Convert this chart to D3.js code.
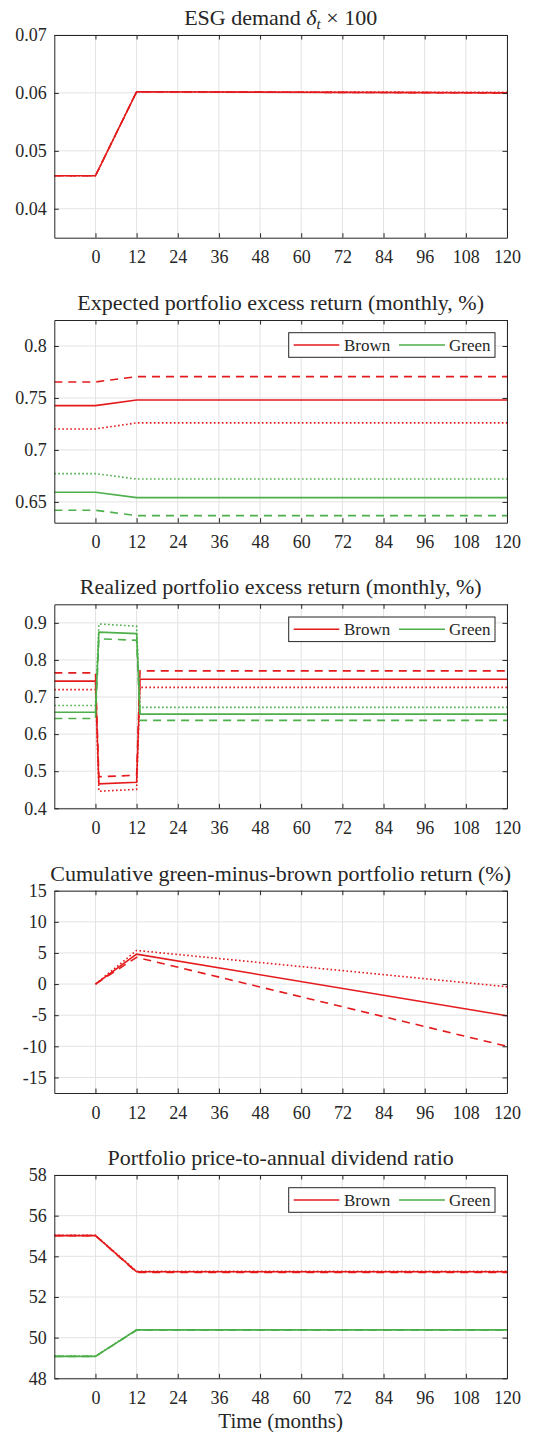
<!DOCTYPE html>
<html>
<head>
<meta charset="utf-8">
<script src="https://cdn.jsdelivr.net/npm/d3@7"></script>
<style>
  html, body { margin: 0; padding: 0; background: #fff; }
  svg { display: block; }
  svg text { font-family: "Liberation Serif", "Times New Roman", Times, "DejaVu Serif", serif; fill: #262626; }
</style>
</head>
<body>
<svg id="chart" width="539" height="1432"></svg>
<script>
// ---------------- DATA ----------------
const xTicks = [0, 12, 24, 36, 48, 60, 72, 84, 96, 108, 120];
const xDomain = [-12, 120];

// Panel 1: ESG demand
const esgTime = [-12, 0, 12, 120];
const esgSolid = [0.0457, 0.0457, 0.0602, 0.0600];
const esgDashed = [0.0457, 0.0457, 0.0602, 0.0600];
const esgDotted = [0.0457, 0.0457, 0.0602, 0.0601];
const esgTicks = [0.04, 0.05, 0.06, 0.07];

// Panel 2: Expected portfolio excess return
const expTime = [-12, 0, 12, 120];
const expBrownSolid = [0.7426, 0.7426, 0.7480, 0.7480];
const expBrownDashed = [0.7654, 0.7654, 0.7705, 0.7705];
const expBrownDotted = [0.7202, 0.7202, 0.7260, 0.7260];
const expGreenSolid = [0.6593, 0.6593, 0.6541, 0.6541];
const expGreenDashed = [0.6420, 0.6420, 0.6368, 0.6368];
const expGreenDotted = [0.6772, 0.6772, 0.6720, 0.6720];
const expTicks = [0.65, 0.7, 0.75, 0.8];

// Panel 3: Realized portfolio excess return
const realTime = [-12, 0, 1, 12, 13, 120];
const realBrownSolid = [0.743, 0.743, 0.466, 0.470, 0.748, 0.748];
const realBrownDashed = [0.765, 0.765, 0.485, 0.489, 0.7705, 0.7705];
const realBrownDotted = [0.720, 0.720, 0.446, 0.451, 0.726, 0.726];
const realGreenSolid = [0.659, 0.659, 0.875, 0.871, 0.654, 0.654];
const realGreenDashed = [0.642, 0.642, 0.857, 0.853, 0.637, 0.637];
const realGreenDotted = [0.677, 0.677, 0.897, 0.891, 0.672, 0.672];
const realTicks = [0.4, 0.5, 0.6, 0.7, 0.8, 0.9];

// Panel 4: Cumulative green-minus-brown return
const cumTime = [0, 12, 120];
const cumSolid = [0, 4.8, -5.1];
const cumDashed = [0, 4.3, -10.0];
const cumDotted = [0, 5.4, -0.43];
const cumTicks = [-15, -10, -5, 0, 5, 10, 15];

// Panel 5: Price-to-annual dividend ratio
const pdTime = [-12, 0, 12, 120];
const pdBrownSolid = [55.02, 55.02, 53.24, 53.24];
const pdBrownDashed = [55.02, 55.02, 53.21, 53.21];
const pdBrownDotted = [55.03, 55.03, 53.26, 53.26];
const pdGreenSolid = [49.08, 49.08, 50.38, 50.38];
const pdGreenDashed = [49.08, 49.08, 50.36, 50.36];
const pdGreenDotted = [49.09, 49.09, 50.39, 50.39];
const pdTicks = [48, 50, 52, 54, 56, 58];

const legendNames = ["Brown", "Green"];

// ---------------- STYLE ----------------
const RED = "#e41a1c", GREEN = "#4daf4a";
const DASH = { solid: null, dashed: "8,6", dotted: "1.6,2.4" };
const svg = d3.select("#chart");
const left = 54.3, right = 507;

const panels = [
  { title: "ESG", top: 35, bottom: 237.7, domain: [0.035, 0.07], ticks: esgTicks, fmt: d3.format(".2f"),
    time: esgTime, series: [[esgSolid, RED, "solid"], [esgDashed, RED, "dashed"], [esgDotted, RED, "dotted"]], legend: false },
  { title: "Expected portfolio excess return (monthly, %)", top: 320, bottom: 522.7, domain: [0.63, 0.825], ticks: expTicks, fmt: d => String(+d.toFixed(2)),
    time: expTime, series: [[expBrownSolid, RED, "solid"], [expBrownDashed, RED, "dashed"], [expBrownDotted, RED, "dotted"],
      [expGreenSolid, GREEN, "solid"], [expGreenDashed, GREEN, "dashed"], [expGreenDotted, GREEN, "dotted"]], legend: true },
  { title: "Realized portfolio excess return (monthly, %)", top: 604.3, bottom: 808.3, domain: [0.4, 0.95], ticks: realTicks, fmt: d => d.toFixed(1),
    time: realTime, series: [[realBrownSolid, RED, "solid"], [realBrownDashed, RED, "dashed"], [realBrownDotted, RED, "dotted"],
      [realGreenSolid, GREEN, "solid"], [realGreenDashed, GREEN, "dashed"], [realGreenDotted, GREEN, "dotted"]], legend: true },
  { title: "Cumulative green-minus-brown portfolio return (%)", top: 890.7, bottom: 1093, domain: [-17.5, 15], ticks: cumTicks, fmt: d => String(d),
    time: cumTime, series: [[cumSolid, RED, "solid"], [cumDashed, RED, "dashed"], [cumDotted, RED, "dotted"]], legend: false },
  { title: "Portfolio price-to-annual dividend ratio", top: 1175, bottom: 1378.3, domain: [48, 58], ticks: pdTicks, fmt: d => String(d),
    time: pdTime, series: [[pdBrownSolid, RED, "solid"], [pdBrownDashed, RED, "dashed"], [pdBrownDotted, RED, "dotted"],
      [pdGreenSolid, GREEN, "solid"], [pdGreenDashed, GREEN, "dashed"], [pdGreenDotted, GREEN, "dotted"]], legend: true }
];

const x = d3.scaleLinear().domain(xDomain).range([left, right]);

panels.forEach((p, i) => {
  const y = d3.scaleLinear().domain(p.domain).range([p.bottom, p.top]);
  const g = svg.append("g");
  const clipId = "clip" + i;
  svg.append("clipPath").attr("id", clipId).append("rect")
    .attr("x", left).attr("y", p.top).attr("width", right - left).attr("height", p.bottom - p.top);

  // grid
  g.selectAll(".vg").data(xTicks).join("line")
    .attr("x1", d => x(d)).attr("x2", d => x(d)).attr("y1", p.top).attr("y2", p.bottom)
    .attr("stroke", "#e3e3e3").attr("stroke-width", 1);
  g.selectAll(".hg").data(p.ticks).join("line")
    .attr("x1", left).attr("x2", right).attr("y1", d => y(d)).attr("y2", d => y(d))
    .attr("stroke", "#e3e3e3").attr("stroke-width", 1);

  // lines
  const line = d3.line().x(d => x(d[0])).y(d => y(d[1]));
  p.series.forEach(([vals, color, style]) => {
    const pts = p.time.map((t, k) => [t, vals[k]]);
    g.append("path").datum(pts)
      .attr("clip-path", `url(#${clipId})`)
      .attr("d", line)
      .attr("fill", "none").attr("stroke", color).attr("stroke-width", 1.6)
      .attr("stroke-dasharray", DASH[style]);
  });

  // axes (MATLAB style, ticks inward, box)
  const tickLen = 4.5;
  const axB = d3.axisBottom(x).tickValues(xTicks).tickSizeInner(-tickLen).tickSizeOuter(0).tickPadding(10);
  const axT = d3.axisTop(x).tickValues(xTicks).tickSizeInner(-tickLen).tickSizeOuter(0).tickFormat("");
  const axL = d3.axisLeft(y).tickValues(p.ticks).tickSizeInner(-tickLen).tickSizeOuter(0).tickPadding(7.6).tickFormat(p.fmt);
  const axR = d3.axisRight(y).tickValues(p.ticks).tickSizeInner(-tickLen).tickSizeOuter(0).tickFormat("");

  const gb = svg.append("g").attr("transform", `translate(0,${p.bottom})`).call(axB);
  const gt = svg.append("g").attr("transform", `translate(0,${p.top})`).call(axT);
  const gl = svg.append("g").attr("transform", `translate(${left},0)`).call(axL);
  const gr = svg.append("g").attr("transform", `translate(${right},0)`).call(axR);
  [gb, gt, gl, gr].forEach(a => {
    a.attr("font-size", 18);
    a.selectAll("path.domain").attr("stroke", "#262626").attr("stroke-width", 1);
    a.selectAll(".tick line").attr("stroke", "#262626").attr("stroke-width", 1);
    a.selectAll("text").attr("fill", "#262626");
  });
  gb.selectAll("text").attr("dy", "0.71em").attr("y", 13);

  // title
  const tt = svg.append("text").attr("x", (left + right) / 2).attr("y", p.top - 10)
    .attr("text-anchor", "middle").attr("font-size", 22);
  if (p.title === "ESG") {
    tt.append("tspan").text("ESG demand ");
    tt.append("tspan").attr("font-style", "italic").text("δ");
    tt.append("tspan").attr("font-style", "italic").attr("font-size", 15).attr("dy", 4).text("t");
    tt.append("tspan").attr("dy", -4).text(" × 100");
  } else {
    tt.text(p.title);
  }

  // legend
  if (p.legend) {
    const lx = 288.7, ly = p.top + 12.7, lw = 206.3, lh = 24.6;
    const lg = svg.append("g");
    lg.append("rect").attr("x", lx).attr("y", ly).attr("width", lw).attr("height", lh)
      .attr("fill", "#fff").attr("stroke", "#262626").attr("stroke-width", 1);
    const items = [[legendNames[0], RED, lx + 5, lx + 50.6, lx + 55.3], [legendNames[1], GREEN, lx + 110.3, lx + 156.3, lx + 160.3]];
    items.forEach(([name, color, x1, x2, tx]) => {
      lg.append("line").attr("x1", x1).attr("x2", x2).attr("y1", ly + lh / 2).attr("y2", ly + lh / 2)
        .attr("stroke", color).attr("stroke-width", 1.6);
      lg.append("text").attr("x", tx).attr("y", ly + lh / 2 + 6)
        .attr("font-size", 17).text(name);
    });
  }
});

// x label
svg.append("text").attr("x", (left + right) / 2).attr("y", 1427.5).attr("text-anchor", "middle")
  .attr("font-size", 21).text("Time (months)");
</script>
</body>
</html>
